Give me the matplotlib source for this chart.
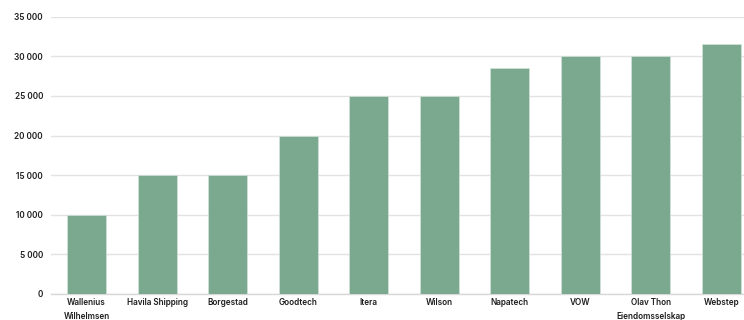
import matplotlib.pyplot as plt
from matplotlib.ticker import FuncFormatter

# data
companies = ['Wallenius\nWilhelmsen', 'Havila Shipping', 'Borgestad', 'Goodtech', 'Itera',
             'Wilson', 'Napatech', 'VOW', 'Olav Thon\nEiendomsselskap', 'Webstep']
values = [10000, 15000, 15000, 20000, 25000, 25000, 28500, 30000, 30000, 31500]
yticks = [0, 5000, 10000, 15000, 20000, 25000, 30000, 35000]

plt.rcParams['font.family'] = ['Inter', 'DejaVu Sans']

fig = plt.figure(figsize=(7.44, 3.2), dpi=100)
ax = fig.add_axes([0.0691, 0.0813, 0.9476, 0.8666])

x = range(len(companies))
ax.bar(x, values, width=0.553, color='#7aa98f', edgecolor='#d4e4da', linewidth=0.5, zorder=3)

ax.set_xlim(-0.5, len(companies) - 0.5)
ax.set_ylim(0, 35000)
ax.set_yticks(yticks)
ax.yaxis.set_major_formatter(FuncFormatter(lambda v, p: f'{int(v):,}'.replace(',', ' ')))
ax.set_xticks(list(x))
ax.set_xticklabels(companies, linespacing=1.6)

ax.grid(axis='y', color='#e2e2e2', lw=1, zorder=0)
for s in ['top', 'right', 'left']:
    ax.spines[s].set_visible(False)
ax.spines['bottom'].set_color('#d8d8d8')
ax.spines['bottom'].set_linewidth(1)

ax.tick_params(axis='both', length=0, labelsize=5.9, colors='#1e1e1e')
ax.tick_params(axis='y', pad=6.0)
ax.tick_params(axis='x', pad=3.2)
for lab in ax.get_xticklabels() + ax.get_yticklabels():
    lab.set_fontweight('semibold')

fig.savefig('out.png', dpi=100)
